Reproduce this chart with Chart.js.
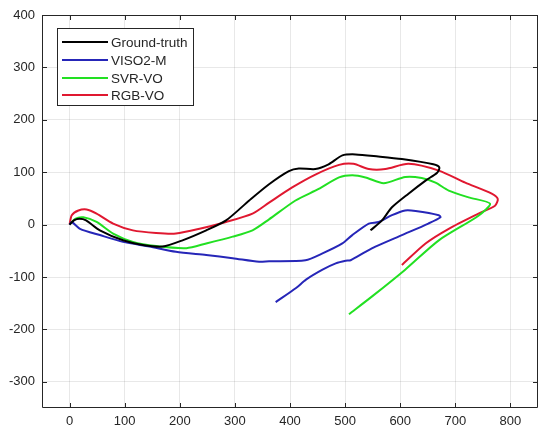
<!DOCTYPE html>
<html>
<head>
<meta charset="utf-8">
<script src="https://cdn.jsdelivr.net/npm/chart.js@4/dist/chart.umd.min.js"></script>
<style>
  html, body { margin: 0; padding: 0; background: #fff; }
  #wrap { width: 539px; height: 432px; }
</style>
</head>
<body>
<div id="wrap"><canvas id="grafico"></canvas></div>
<script>
// tick labels
var xTicks = [0, 100, 200, 300, 400, 500, 600, 700, 800];
var yTicks = [-300, -200, -100, 0, 100, 200, 300, 400];

// trajectories
var gtX = [0, 8, 18, 30, 55, 97, 133, 169, 205, 248, 284, 326, 362, 398, 416, 446, 470, 495, 519, 560, 603, 660, 671, 667, 646, 615, 585, 567, 546];
var gtY = [0, 8, 11, 8, -11, -30, -39, -42, -30, -11, 8, 46, 77, 102, 107, 106, 115, 132, 134, 130, 125, 115, 109, 99, 84, 59, 33, 8, -11];

var visoX = [0, 4, 19, 55, 97, 145, 193, 248, 296, 344, 362, 428, 459, 495, 513, 543, 561, 585, 609, 628, 670, 673, 651, 603, 555, 537, 510, 501, 483, 459, 429, 411, 374];
var visoY = [0, 5, -8, -20, -33, -42, -52, -58, -64, -71, -70, -68, -55, -36, -20, 2, 5, 18, 27, 26, 18, 14, 2, -20, -42, -52, -68, -69, -74, -86, -105, -121, -148];

var svrX = [0, 10, 25, 49, 79, 115, 157, 212, 248, 296, 332, 362, 410, 452, 489, 513, 537, 570, 609, 639, 664, 688, 724, 763, 742, 670, 609, 549, 507];
var svrY = [0, 11, 14, 5, -17, -33, -41, -45, -36, -23, -11, 10, 46, 68, 90, 94, 90, 79, 91, 89, 80, 65, 52, 40, 17, -30, -86, -137, -171];

var rgbX = [0, 4, 16, 31, 49, 79, 115, 157, 193, 236, 284, 332, 362, 404, 447, 489, 515, 543, 573, 615, 670, 718, 766, 777, 772, 742, 688, 646, 603];
var rgbY = [0, 18, 27, 29, 21, 2, -11, -16, -17, -8, 5, 21, 42, 71, 96, 114, 116, 106, 106, 116, 103, 80, 59, 49, 36, 21, -8, -36, -77];

var nomi = ["Ground-truth", "VISO2-M", "SVR-VO", "RGB-VO"];
var colori = ["#000000", "#2626b8", "#22e022", "#e01830"];

function punti(xs, ys) {
    var out = [];
    for (let i = 0; i < xs.length; i++) {
        out.push({x: xs[i], y: ys[i]});
    }
    return out;
}

var serie = [punti(gtX, gtY), punti(visoX, visoY), punti(svrX, svrY), punti(rgbX, rgbY)];
var datasets = [];
for (let i = 0; i < serie.length; i++) {
    datasets.push({
        label: nomi[i],
        data: serie[i],
        showLine: true,
        borderColor: colori[i],
        backgroundColor: colori[i],
        borderWidth: 2,
        pointRadius: 0,
        tension: 0.25
    });
}

var FONT = "Liberation Sans, Arial, Helvetica, sans-serif";

// box with inward ticks, MATLAB style
var boxPlugin = {
    id: 'box',
    afterDatasetsDraw: function(chart) {
        var ctx = chart.ctx, a = chart.chartArea;
        var sx = chart.scales.x, sy = chart.scales.y;
        ctx.save();
        ctx.strokeStyle = '#262626';
        ctx.lineWidth = 1;
        ctx.beginPath();
        ctx.rect(a.left + 0.5, a.top + 0.5, a.right - a.left - 1, a.bottom - a.top - 1);
        xTicks.forEach(function(v) {
            var px = Math.round(sx.getPixelForValue(v)) + 0.5;
            ctx.moveTo(px, a.bottom); ctx.lineTo(px, a.bottom - 5);
            ctx.moveTo(px, a.top); ctx.lineTo(px, a.top + 5);
        });
        yTicks.forEach(function(v) {
            var py = Math.round(sy.getPixelForValue(v)) + 0.5;
            ctx.moveTo(a.left, py); ctx.lineTo(a.left + 5, py);
            ctx.moveTo(a.right, py); ctx.lineTo(a.right - 5, py);
        });
        ctx.stroke();

        // legend
        var lx = 57, ly = 28, lw = 136, lh = 77;
        ctx.fillStyle = '#fff';
        ctx.fillRect(lx, ly, lw, lh);
        ctx.strokeStyle = '#262626';
        ctx.strokeRect(lx + 0.5, ly + 0.5, lw, lh);
        ctx.font = '13.5px ' + FONT;
        ctx.textBaseline = 'middle';
        var righe = [42, 60, 78, 95];
        for (let i = 0; i < nomi.length; i++) {
            ctx.strokeStyle = colori[i];
            ctx.lineWidth = 2;
            ctx.beginPath();
            ctx.moveTo(62, righe[i]); ctx.lineTo(108, righe[i]);
            ctx.stroke();
            ctx.fillStyle = '#262626';
            ctx.fillText(nomi[i], 111, righe[i] + 1);
        }
        ctx.restore();
    }
};

new Chart(document.getElementById("grafico"), {
    type: 'scatter',
    data: { datasets: datasets },
    plugins: [boxPlugin],
    options: {
        responsive: true,
        maintainAspectRatio: false,
        animation: false,
        layout: { padding: { top: 15, right: 1, left: 0, bottom: 0 } },
        plugins: { legend: { display: false }, tooltip: { enabled: false } },
        scales: {
            x: {
                type: 'linear',
                min: -50, max: 850,
                afterBuildTicks: function(s) { s.ticks = xTicks.map(function(v) { return {value: v}; }); },
                afterFit: function(s) { s.height = 24; },
                grid: { color: 'rgba(0,0,0,0.09)', drawTicks: false },
                border: { display: false },
                ticks: { color: '#262626', font: { family: FONT, size: 13 }, padding: 6, maxRotation: 0, autoSkip: false }
            },
            y: {
                type: 'linear',
                min: -350, max: 400,
                afterBuildTicks: function(s) { s.ticks = yTicks.map(function(v) { return {value: v}; }); },
                afterFit: function(s) { s.width = 42; },
                grid: { color: 'rgba(0,0,0,0.09)', drawTicks: false },
                border: { display: false },
                ticks: { color: '#262626', font: { family: FONT, size: 13 }, padding: 7, autoSkip: false }
            }
        }
    }
});
</script>
</body>
</html>
